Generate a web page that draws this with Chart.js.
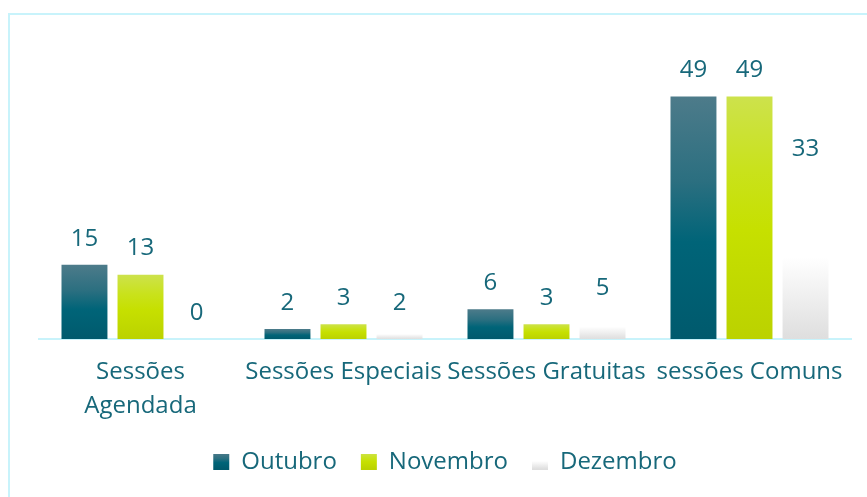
<!DOCTYPE html>
<html>
<head>
<meta charset="utf-8">
<script src="https://cdn.jsdelivr.net/npm/chart.js@4"></script>
<style>
html,body{margin:0;padding:0;background:#fff;}
#wrap{width:867px;height:497px;position:relative;}
</style>
</head>
<body>
<div id="wrap"><canvas id="c" width="867" height="497"></canvas></div>
<script>
const categories = [["Sessões", "Agendada"], "Sessões Especiais", "Sessões Gratuitas", "sessões Comuns"];
const seriesNames = ["Outubro", "Novembro", "Dezembro"];
const outubro = [15, 2, 6, 49];
const novembro = [13, 3, 3, 49];
const dezembro = [0, 2, 5, 33];

const TEXT = '#17687a';
const FONT = 'Open Sans';
const stopsOut = [[0, '#4d7b8a'], [0.35, '#2b6f80'], [0.6, '#006478'], [1, '#005a6d']];
const stopsNov = [[0, '#cde24c'], [0.3, '#c9e21c'], [0.55, '#c6e000'], [1, '#bbd200']];
const stopsDez = [[0, '#ffffff'], [0.5, '#ffffff'], [1, '#dedede']];

function barGrad(stops) {
  return function(ctx) {
    const chart = ctx.chart;
    const y = chart.scales && chart.scales.y;
    if (!y || ctx.dataIndex === undefined || ctx.raw === undefined) return stops[Math.floor(stops.length/2)][1];
    const top = y.getPixelForValue(ctx.raw);
    const base = y.getPixelForValue(0);
    if (Math.abs(base - top) < 0.5) return stops[stops.length-1][1];
    const g = chart.ctx.createLinearGradient(0, top, 0, base);
    stops.forEach(s => g.addColorStop(s[0], s[1]));
    return g;
  };
}

const frame = {
  id: 'frame',
  beforeDraw(chart) {
    const c = chart.ctx;
    c.save();
    c.strokeStyle = '#c8f3fb';
    c.lineWidth = 2;
    c.beginPath();
    c.moveTo(9, chart.height);
    c.lineTo(9, 14);
    c.lineTo(chart.width, 14);
    c.stroke();
    c.restore();
  }
};

const labelsPlugin = {
  id: 'vals',
  afterDatasetsDraw(chart) {
    const c = chart.ctx;
    c.save();
    c.font = '24px "' + FONT + '"';
    c.fillStyle = TEXT;
    c.textAlign = 'center';
    c.textBaseline = 'middle';
    chart.data.datasets.forEach((ds, i) => {
      const meta = chart.getDatasetMeta(i);
      meta.data.forEach((el, j) => {
        c.fillText(String(ds.data[j]), el.x, el.y - 26);
      });
    });
    c.restore();
  }
};

const legendStops = [stopsOut, stopsNov, stopsDez];

new Chart(document.getElementById('c'), {
  type: 'bar',
  data: {
    labels: categories,
    datasets: [
      { label: seriesNames[0], data: outubro, backgroundColor: barGrad(stopsOut) },
      { label: seriesNames[1], data: novembro, backgroundColor: barGrad(stopsNov) },
      { label: seriesNames[2], data: dezembro, backgroundColor: barGrad(stopsDez) }
    ]
  },
  plugins: [frame, labelsPlugin],
  options: {
    responsive: false,
    animation: false,
    devicePixelRatio: 1,
    layout: { padding: { top: 42, left: 39, right: 16, bottom: 13 } },
    datasets: { bar: { categoryPercentage: 0.828, barPercentage: 0.82 } },
    scales: {
      y: { display: false, min: 0, max: 60 },
      x: {
        afterFit(scale) { scale.height = 87; },
        grid: { display: false, drawTicks: false },
        border: { display: true, color: '#c8f3fb', width: 2 },
        ticks: { color: TEXT, font: { family: FONT, size: 24, lineHeight: 1.42 }, padding: 16, maxRotation: 0, autoSkip: false }
      }
    },
    plugins: {
      tooltip: { enabled: false },
      legend: {
        position: 'bottom',
        labels: {
          color: TEXT,
          font: { family: FONT, size: 24 },
          boxWidth: 16,
          boxHeight: 16,
          padding: 24,
          generateLabels(chart) {
            return chart.data.datasets.map((ds, i) => {
              const yb = chart.height - 36;
              const g = chart.ctx.createLinearGradient(0, yb - 8, 0, yb + 8);
              legendStops[i].forEach(s => g.addColorStop(s[0], s[1]));
              return { text: ds.label, fillStyle: g, strokeStyle: 'rgba(0,0,0,0)', lineWidth: 0, datasetIndex: i, hidden: false, fontColor: TEXT };
            });
          }
        }
      }
    }
  }
});
</script>
</body>
</html>
